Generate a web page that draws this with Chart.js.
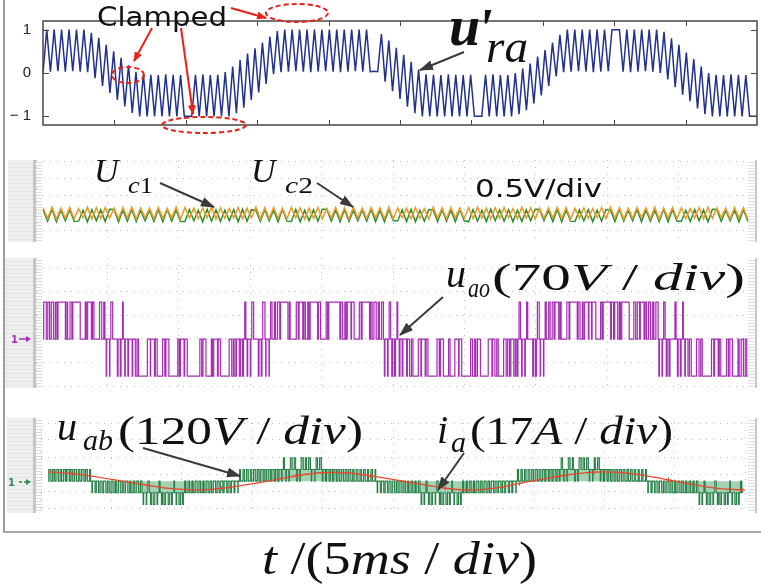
<!DOCTYPE html>
<html>
<head>
  <title>Clamped reference and converter waveforms</title>
  <script src="https://cdn.jsdelivr.net/npm/chart.js"></script>
  <style>
    body { margin: 0; background: #fff; }
    #page { position: relative; width: 761px; height: 586px; overflow: hidden; background: #fff; }
    #page canvas, #page svg, .deco { position: absolute; }
    .band { background: repeating-linear-gradient(to bottom, #efefef 0 3px, #e3e3e3 3px 4px); }
    .rail { width: 3px; background: #c6c6c6; }
    .comb { width: 6px; background: repeating-linear-gradient(to bottom, #fff 0 2px, #dadada 2px 3px); }
    .combR { width: 7px; background: repeating-linear-gradient(to bottom, #fff 0 2px, #e0e0e0 2px 3px); border-right: 2px solid #c8c8c8; }
  </style>
</head>
<body>
<div id="page">
  <!-- outer frame -->
  <div class="deco" style="left:3px;top:0;width:2px;height:533px;background:#9c9c9c"></div>
  <div class="deco" style="left:3px;top:531px;width:758px;height:2px;background:#a8a8a8"></div>

  <!-- scope panel edges -->
  <div class="deco band" style="left:8px;top:160px;width:25px;height:82px"></div>
  <div class="deco rail" style="left:33px;top:160px;height:82px"></div>
  <div class="deco comb" style="left:36px;top:160px;height:82px"></div>
  <div class="deco combR" style="left:748px;top:160px;height:82px"></div>

  <div class="deco band" style="left:5px;top:258px;width:28px;height:130px"></div>
  <div class="deco rail" style="left:33px;top:258px;height:130px"></div>
  <div class="deco comb" style="left:36px;top:258px;height:130px"></div>
  <div class="deco combR" style="left:748px;top:258px;height:130px"></div>

  <div class="deco band" style="left:7px;top:418px;width:26px;height:95px"></div>
  <div class="deco rail" style="left:33px;top:418px;height:95px"></div>
  <div class="deco comb" style="left:36px;top:418px;height:95px"></div>
  <div class="deco combR" style="left:748px;top:418px;height:95px"></div>

  <canvas id="uraChart" width="761" height="146" style="left:0;top:0"></canvas>
  <canvas id="ucChart" width="714" height="82" style="left:36px;top:160px"></canvas>
  <canvas id="uaoChart" width="714" height="130" style="left:36px;top:258px"></canvas>
  <canvas id="uabChart" width="714" height="95" style="left:36px;top:418px"></canvas>

  <svg id="notes" width="761" height="586" style="left:0;top:0">
    <defs>
      <marker id="headRed" viewBox="0 0 10 8" refX="9" refY="4" markerWidth="10" markerHeight="8" markerUnits="userSpaceOnUse" orient="auto">
        <path d="M0,0 L10,4 L0,8 Z" fill="#e8221a"/>
      </marker>
      <marker id="headGrey" viewBox="0 0 14 10" refX="13" refY="5" markerWidth="14" markerHeight="10" markerUnits="userSpaceOnUse" orient="auto">
        <path d="M0,0 L14,5 L0,10 Z" fill="#3a3a3a"/>
      </marker>
    </defs>

    <!-- clamped notes -->
    <g fill="none" stroke="#e8221a" stroke-width="2" stroke-dasharray="5 3">
      <ellipse cx="128" cy="75" rx="16" ry="8"/>
      <ellipse cx="204" cy="125" rx="42" ry="8"/>
      <ellipse cx="297" cy="13" rx="31" ry="9"/>
    </g>
    <g stroke="#e8221a" stroke-width="2">
      <line x1="152" y1="28" x2="134" y2="61" marker-end="url(#headRed)"/>
      <line x1="181" y1="28" x2="193" y2="114" marker-end="url(#headRed)"/>
      <line x1="231" y1="8" x2="266" y2="18" marker-end="url(#headRed)"/>
    </g>
    <text x="97" y="26" font-family="DejaVu Sans" font-size="26" fill="#111" textLength="130" lengthAdjust="spacingAndGlyphs">Clamped</text>

    <g stroke="#3a3a3a" stroke-width="2">
      <line x1="464" y1="52" x2="420" y2="70" marker-end="url(#headGrey)"/>
      <line x1="160" y1="183" x2="214" y2="207" marker-end="url(#headGrey)"/>
      <line x1="317" y1="183" x2="353" y2="207" marker-end="url(#headGrey)"/>
      <line x1="443" y1="297" x2="400" y2="335" marker-end="url(#headGrey)"/>
      <line x1="143" y1="448" x2="240" y2="476" marker-end="url(#headGrey)"/>
      <line x1="464" y1="453" x2="438" y2="490" marker-end="url(#headGrey)"/>
    </g>

    <g font-family="Liberation Serif" fill="#111">
      <text x="449" y="45" font-size="56" font-weight="bold" font-style="italic">u</text>
      <text x="477" y="48" font-size="56" font-weight="bold" font-style="italic">'</text>
      <text x="486" y="62" font-size="46" font-style="italic" textLength="42" lengthAdjust="spacingAndGlyphs">ra</text>

      <text x="94" y="182" font-size="34" font-style="italic">U</text>
      <text x="128" y="193" font-size="23" textLength="25" lengthAdjust="spacingAndGlyphs"><tspan font-style="italic">c</tspan>1</text>
      <text x="251" y="182" font-size="34" font-style="italic">U</text>
      <text x="285" y="193" font-size="23" textLength="28" lengthAdjust="spacingAndGlyphs"><tspan font-style="italic">c</tspan>2</text>

      <text x="446" y="287" font-size="40" font-style="italic">u</text>
      <text x="468" y="297" font-size="28" font-style="italic" textLength="22" lengthAdjust="spacingAndGlyphs">ao</text>
      <text x="492" y="290" font-size="38" textLength="253" lengthAdjust="spacingAndGlyphs">(70<tspan font-style="italic">V</tspan> / <tspan font-style="italic">div</tspan>)</text>

      <text x="57" y="440" font-size="40" font-style="italic">u</text>
      <text x="83" y="450" font-size="30" font-style="italic" textLength="30" lengthAdjust="spacingAndGlyphs">ab</text>
      <text x="118" y="444" font-size="40" textLength="245" lengthAdjust="spacingAndGlyphs">(120<tspan font-style="italic">V</tspan> / <tspan font-style="italic">div</tspan>)</text>

      <text x="437" y="443" font-size="40" font-style="italic">i</text>
      <text x="451" y="452" font-size="30" font-style="italic">a</text>
      <text x="470" y="444" font-size="40" textLength="203" lengthAdjust="spacingAndGlyphs">(17<tspan font-style="italic">A</tspan> / <tspan font-style="italic">div</tspan>)</text>

      <text x="262" y="574" font-size="46" textLength="275" lengthAdjust="spacingAndGlyphs"><tspan font-style="italic">t</tspan> /(5<tspan font-style="italic">ms</tspan> / <tspan font-style="italic">div</tspan>)</text>
    </g>
    <text x="475" y="197" font-family="DejaVu Sans" font-size="24" fill="#111" textLength="127" lengthAdjust="spacingAndGlyphs">0.5V/div</text>

    <!-- channel markers -->
    <text x="11" y="343" font-family="DejaVu Sans" font-size="10" font-weight="bold" fill="#a52db5">1</text>
    <line x1="19" y1="339" x2="27" y2="339" stroke="#a52db5" stroke-width="1.5"/>
    <path d="M26,336 L31,339 L26,342 Z" fill="#a52db5"/>
    <text x="8" y="486" font-family="DejaVu Sans" font-size="10" font-weight="bold" fill="#2e8a52">1</text>
    <line x1="19" y1="482" x2="27" y2="482" stroke="#2e8a52" stroke-width="1.5" stroke-dasharray="3 2"/>
    <path d="M26,479 L31,482 L26,485 Z" fill="#2e8a52"/>
  </svg>
</div>

<script>
  // ---- top panel: u'ra, one trough and one peak per carrier cycle ----
  const yTicksTop = [-1, 0, 1];

  const uraTrough = [
    0.00, 0.03, 0.04, 0.03, 0.04, 0.03,
    0.02, -0.12, -0.30, -0.46, -0.62, -0.77, -0.92, -1.00,
    -1, -1, -1, -1, -1, -1, -1, -1, -1, -1, -1, -1,
    -0.93, -0.80, -0.62, -0.45, -0.25, -0.03,
    0.02, 0.03, 0.04, 0.03, 0.02, 0.03, 0.04, 0.03, 0.02, 0.03, 0.04, 0.03, 0.03, 0.03,
    -0.20, -0.42, -0.60, -0.78, -0.93,
    -1, -1, -1, -1, -1, -1, -1, -1, -1, -1, -1, -1, -1,
    -0.95, -0.86, -0.70, -0.52, -0.30, -0.08,
    0.02, 0.03, 0.04, 0.03, 0.02, 0.03, 0.04,
    1.00,
    0.03, 0.02, 0.03, 0.04, 0.03, 0.00,
    -0.15, -0.33, -0.50, -0.65, -0.82, -0.95,
    -1, -1, -1, -1, -1, -1, -1
  ];

  const uraPeak = [
    1, 1, 1, 1, 1, 1,
    0.93, 0.81, 0.65, 0.50, 0.35, 0.18, 0.03, -0.03,
    -0.04, -0.05, -0.03, -0.04, -0.05, -1.00, -0.04, -0.03, -0.05, -0.04,
    0.02, 0.15, 0.30, 0.45, 0.57, 0.70, 0.84, 0.97,
    1, 1, 1, 1, 1, 1, 1, 1, 1, 1, 1, 1,
    0.04,
    0.90, 0.75, 0.58, 0.42, 0.26, 0.08, -0.03,
    -0.04, -0.05, -0.03, -0.04, -0.05, -0.04, -1.00, -0.04, -0.03, -0.05,
    -0.05, 0.00, 0.10, 0.22, 0.38, 0.53, 0.70, 0.88,
    1, 1, 1, 1, 1, 1, 1, 1, 1, 1, 1, 1, 1,
    0.95, 0.80, 0.65, 0.47, 0.32, 0.15, 0.00,
    -0.04, -0.05, -0.03, -0.04, -0.05, -1.00
  ];

  // ---- capacitor voltages (div), sampled along the sweep ----
  const ucOrange = [
    -0.70,-1.32,-0.66,-1.36,-0.72,-1.30,-0.68,-1.34,-0.74,-1.28,-0.66,-1.36,-0.70,-1.32,-0.68,-1.30,
    -0.72,-1.34,-0.68,-1.30,-0.66,-1.36,-0.70,-1.28,-0.72,-1.34,-0.68,-1.32,-0.74,-1.30,-0.66,-1.36,
    -0.68,-1.30,-0.72,-1.34,-0.70,-1.28,-0.66,-1.36,-0.70,-1.32,-0.74,-1.30,-0.68,-1.34,-0.72,-1.28,
    -0.66,-1.36,-0.70,-1.32,-0.68,-1.30,-0.72,-1.34,-0.66,-1.28,-0.70,-1.36,-0.72,-1.32,-0.68,-1.34,
    -0.74,-1.30,-0.68,-1.34,-0.70,-1.36,-0.66,-1.30,-0.72,-1.32,-0.68,-1.28,-0.70,-1.34,-0.66,-1.36,
    -0.70,-1.28,-0.72,-1.34,-0.68,-1.32,-0.74,-1.36,-0.66,-1.30,-0.70,-1.34,-0.68,-1.28,-0.72,-1.32,
    -0.68,-1.34,-0.66,-1.30,-0.72,-1.36,-0.70,-1.32,-0.68,-1.28,-0.74,-1.34,-0.66,-1.30,-0.70,-1.36,
    -0.72,-1.32,-0.70,-1.28,-0.66,-1.34,-0.68,-1.36,-0.72,-1.30,-0.70,-1.32,-0.74,-1.28,-0.68,-1.34,
    -0.66,-1.30,-0.70,-1.36,-0.72,-1.32,-0.68,-1.28,-0.70,-1.34,-0.66,-1.36,-0.72,-1.30,-0.68,-1.32,
    -0.70,-1.34,-0.74,-1.30,-0.68,-1.36,-0.66,-1.32,-0.70,-1.28,-0.72,-1.34,-0.68,-1.30,-0.70,-1.36
  ];

  const ucGreen = [
    -0.82,-1.48,-0.78,-1.52,-0.84,-1.46,-0.80,-1.50,-1.48,-0.84,-1.52,-0.80,-1.46,-0.82,-1.50,-0.78,
    -0.80,-1.52,-0.84,-1.48,-0.78,-1.50,-0.82,-1.46,-0.84,-1.50,-0.80,-1.52,-0.78,-1.48,-0.82,-1.50,
    -1.50,-0.80,-1.46,-0.84,-1.52,-0.78,-1.48,-0.82,-1.50,-0.84,-1.46,-0.80,-1.52,-0.78,-1.48,-0.82,
    -0.84,-1.50,-0.80,-1.46,-0.82,-1.52,-0.78,-1.48,-1.50,-0.80,-1.52,-0.84,-1.46,-0.82,-1.48,-0.78,
    -0.78,-1.48,-0.82,-1.52,-0.80,-1.50,-0.84,-1.46,-0.82,-1.48,-0.78,-1.50,-0.84,-1.52,-0.80,-1.46,
    -1.46,-0.82,-1.50,-0.78,-1.52,-0.84,-1.48,-0.80,-0.82,-1.50,-0.80,-1.48,-0.84,-1.52,-0.78,-1.46,
    -1.52,-0.80,-1.48,-0.84,-1.50,-0.78,-1.46,-0.82,-1.48,-0.80,-1.52,-0.84,-1.50,-0.82,-1.46,-0.78,
    -0.80,-1.46,-0.84,-1.50,-0.78,-1.52,-0.82,-1.48,-1.50,-0.82,-1.46,-0.80,-1.52,-0.84,-1.48,-0.80,
    -0.82,-1.50,-0.78,-1.48,-0.84,-1.46,-0.80,-1.52,-0.82,-1.48,-0.84,-1.50,-0.78,-1.52,-0.80,-1.48,
    -1.48,-0.84,-1.50,-0.80,-1.46,-0.82,-1.52,-0.78,-0.80,-1.50,-0.84,-1.46,-0.82,-1.52,-0.78,-1.50
  ];

  // ---- uao: mean level over each switching cycle (+1 / 0 / -1) ----
  const uaoCycleMean = [
    0.7, 0.5, 0.6, 0.4, 1, 1, 0.2, 0.5, 1, 1, 0, 0.3, 1, 0.4, 0, 0.6,
    0.3, -0.2, 0.5, 0, -0.4, 0.2, -0.3, 0,
    -0.3, -0.6, -1, -1, -0.2, 0, -0.5, -1, -0.4, -0.2, -1, -1, -0.6, 0, -0.3,
    -1, -1, -1, -0.5, -0.2, -1, -0.7, 0, -0.4, -1, -1, -0.3, -0.6, -0.2, -0.5,
    0.3, -0.3, 0.5, 0, -0.4, 0.6, -0.2, 0.4,
    0.3, 0.6, 1, 1, 0.2, 0, 0.5, 1, 0.4, 0.3, 1, 1, 0.6, 0, 0.4,
    1, 1, 1, 0.5, 0.3, 1, 0.7, 0, 0.5, 1, 1, 0.4, 0.6, 0.3, 0.5,
    -0.3, 0.4, -0.5, 0.2, -0.4, 0,
    -0.4, -0.6, -1, -0.3, 0, -0.5, -1, -1, -0.4, -0.2, -1, -0.6, -1, 0, -0.3,
    -1, -1, -0.5, -0.7, -0.2, -1, -1, 0, -0.4, -0.6, -1, -0.3, -0.5, -0.2, -0.6,
    0.4, -0.3, 0.3, 0, -0.5, 0.5, -0.2, 0.3,
    0.4, 0.5, 1, 0.3, 0, 0.6, 1, 1, 0.5, 0.2, 1, 0.7, 1, 0, 0.4,
    1, 1, 0.6, 0.8, 0.3, 1, 1, 0, 0.5, 0.6, 1, 0.4, 0.5, 0.3, 0.6,
    -0.3, 0.4, -0.5, 0, 0.3, -0.4, 0.2, -0.3,
    -0.5, -1, -0.3, -0.6, -1, -1, -0.4, 0, -0.6, -1, -0.5, -0.3, -1, -0.7, -0.4, -0.6
  ];

  // ---- uab: mean level over each switching cycle (five levels -2..+2) ----
  const uabCycleMean = [
    0.6, 0.5, 0.7, 0.4, 0.6, 0.8, 0.5, 0.6, 0.4, 0.7, 0.5, 0.3,
    -0.3, -0.4, -0.5, -0.4, -0.6, -0.5, -0.7, -0.5, -0.6, -0.4, -0.7, -0.6, -0.5, -0.6,
    -1.3, -0.6, -1.5, -1.4, -0.7, -1.6, -1.3, -1.5, -0.8, -1.4, -1.5, -0.7,
    -0.6, -0.7, -0.5, -0.6, -0.7, -0.5, -0.6, -0.4, -0.5, -0.4, -0.3, -0.5, -0.3, -0.2,
    0.3, 0.4, 0.5, 0.4, 0.6, 0.5, 0.7, 0.5, 0.6, 0.7, 0.6, 0.7,
    1.3, 0.7, 1.5, 1.4, 0.6, 1.6, 1.3, 1.5, 0.8, 1.4, 1.5, 0.7,
    0.7, 0.6, 0.7, 0.5, 0.6, 0.5, 0.6, 0.4, 0.5, 0.4, 0.5, 0.3, 0.4, 0.2,
    -0.3, -0.4, -0.4, -0.5, -0.5, -0.6, -0.5, -0.6, -0.7, -0.6, -0.7, -0.6,
    -1.4, -0.7, -1.5, -1.3, -0.6, -1.6, -1.4, -1.5, -0.8, -1.3, -1.5, -0.7,
    -0.7, -0.6, -0.7, -0.5, -0.6, -0.5, -0.6, -0.4, -0.5, -0.4, -0.5, -0.3, -0.4, -0.2,
    0.3, 0.4, 0.4, 0.5, 0.5, 0.6, 0.5, 0.6, 0.7, 0.6, 0.7, 0.6,
    1.4, 0.7, 1.5, 1.3, 0.6, 1.6, 1.4, 1.5, 0.8, 1.3, 1.5, 0.7,
    0.7, 0.6, 0.6, 0.5, 0.6, 0.5, 0.4, 0.5, 0.4, 0.3, 0.4, 0.3,
    -0.3, -0.4, -0.5, -0.4, -0.6, -0.5, -0.6, -0.7, -0.5, -0.6, -0.7, -0.6, -0.7, -0.6,
    -1.4, -0.7, -1.5, -1.4, -0.6, -1.6, -1.3, -1.5, -0.8, -1.4, -1.5, -0.7
  ];

  // ---- ia (same level units as uab) ----
  const iaSamples = [
    0.80, 0.65, 0.35, 0.00, -0.35, -0.65, -0.77, -0.62, -0.30, 0.05,
    0.45, 0.72, 0.72, 0.45, 0.10, -0.25, -0.60, -0.77, -0.60, -0.20,
    0.20, 0.55, 0.78, 0.75, 0.50, 0.10, -0.30, -0.62, -0.76
  ];

  // sweep: 10 divisions = 100 units, traces run from 1 to 99.7
  const sweepStart = 1;
  const sweepEnd = 99.7;

  Chart.defaults.font.family = 'Liberation Sans';

  // ---------- top panel ----------
  const uraSeries = [];
  uraTrough.forEach((lo, k) => {
    uraSeries.push(lo);
    if (k < uraPeak.length) uraSeries.push(uraPeak[k]);
  });

  const panelFrame = {
    id: 'panelFrame',
    afterDraw(chart) {
      const { ctx, chartArea: a } = chart;
      const y = chart.scales.y;
      ctx.save();
      ctx.strokeStyle = '#474747';
      ctx.lineWidth = 1.5;
      ctx.strokeRect(a.left, a.top, a.right - a.left, a.bottom - a.top);
      ctx.lineWidth = 1;
      ctx.beginPath();
      for (let i = 1; i < 10; i++) {
        const px = Math.round(a.left + (a.right - a.left) * i / 10) + 0.5;
        ctx.moveTo(px, a.bottom); ctx.lineTo(px, a.bottom - 5);
        ctx.moveTo(px, a.top); ctx.lineTo(px, a.top + 5);
      }
      yTicksTop.forEach(v => {
        const py = Math.round(y.getPixelForValue(v)) + 0.5;
        ctx.moveTo(a.left, py); ctx.lineTo(a.left + 6, py);
        ctx.moveTo(a.right, py); ctx.lineTo(a.right - 6, py);
      });
      ctx.stroke();
      ctx.restore();
    }
  };

  new Chart(document.getElementById('uraChart'), {
    type: 'line',
    data: {
      labels: uraSeries.map((_, i) => i),
      datasets: [{
        data: uraSeries,
        borderColor: '#22318e',
        borderWidth: 1.5,
        pointRadius: 0,
        tension: 0
      }]
    },
    options: {
      responsive: false,
      animation: false,
      layout: { padding: { top: 2, right: 4, bottom: 3, left: 0 } },
      plugins: { legend: { display: false }, tooltip: { enabled: false } },
      scales: {
        x: { display: false },
        y: {
          min: -1.2,
          max: 1.2,
          afterFit: s => { s.width = 43; },
          afterBuildTicks: s => { s.ticks = yTicksTop.map(v => ({ value: v })); },
          ticks: {
            padding: 12,
            color: '#222',
            font: { size: 15 },
            callback: v => (v < 0 ? '\u2212 1' : String(v))
          },
          grid: { display: false, drawTicks: false },
          border: { display: false }
        }
      }
    },
    plugins: [panelFrame]
  });

  // ---------- scope panels ----------
  function scopeOptions(levelMin, levelMax, divMin, divMax) {
    const noSize = s => { if (s.isHorizontal()) s.height = 0; else s.width = 0; };
    const dotted = { display: false, dash: [1, 6] };
    return {
      responsive: false,
      animation: false,
      layout: { padding: 0 },
      plugins: { legend: { display: false }, tooltip: { enabled: false } },
      scales: {
        x: {
          type: 'linear', min: 0, max: 100,
          ticks: { display: false, stepSize: 10 },
          grid: { color: '#bdbdbd', drawTicks: false },
          border: dotted,
          afterFit: noSize
        },
        y: { min: levelMin, max: levelMax, display: false },
        yg: {
          position: 'left', min: divMin, max: divMax,
          ticks: { display: false, stepSize: 1, includeBounds: false },
          grid: { color: '#bdbdbd', drawTicks: false },
          border: dotted,
          afterFit: noSize
        }
      }
    };
  }

  function sampled(values) {
    const step = (sweepEnd - sweepStart) / (values.length - 1);
    return values.map((v, i) => ({ x: sweepStart + i * step, y: v }));
  }

  // one pulse per switching cycle, centred, between the two levels around the mean
  function pwmSteps(means) {
    const cycle = (sweepEnd - sweepStart) / means.length;
    const pts = [];
    let base = 0;
    means.forEach((v, k) => {
      base = Math.floor(v);
      const on = v - base;
      const t0 = sweepStart + k * cycle;
      pts.push({ x: t0, y: base });
      if (on > 0) {
        pts.push({ x: t0 + cycle * (1 - on) / 2, y: base + 1 });
        pts.push({ x: t0 + cycle * (1 + on) / 2, y: base });
      }
    });
    pts.push({ x: sweepEnd, y: base });
    return pts;
  }

  new Chart(document.getElementById('ucChart'), {
    type: 'line',
    data: {
      datasets: [
        { data: sampled(ucOrange), borderColor: '#ec9a2c', borderWidth: 1.5, pointRadius: 0, tension: 0 },
        { data: sampled(ucGreen), borderColor: '#2f8f2f', borderWidth: 1.5, pointRadius: 0, tension: 0 }
      ]
    },
    options: scopeOptions(-2.7, 2.1, -2.7, 2.1)
  });

  new Chart(document.getElementById('uaoChart'), {
    type: 'line',
    data: {
      datasets: [
        { data: pwmSteps(uaoCycleMean), borderColor: '#a52db5', borderWidth: 1.2, pointRadius: 0, stepped: true }
      ]
    },
    options: scopeOptions(-1.32, 2.19, -2.08, 3.43)
  });

  new Chart(document.getElementById('uabChart'), {
    type: 'line',
    data: {
      datasets: [
        { data: sampled(iaSamples), borderColor: '#e2492d', borderWidth: 1.3, tension: 0.4,
          pointStyle: 'cross', pointRadius: ctx => (ctx.dataIndex % 3 === 1 ? 2.5 : 0),
          pointBorderColor: '#e2492d', pointBorderWidth: 1, order: 0 },
        { data: pwmSteps(uabCycleMean), borderColor: '#2a8049', borderWidth: 1.1, pointRadius: 0,
          stepped: true, fill: 'origin', backgroundColor: 'rgba(90,170,120,0.55)', order: 1 }
      ]
    },
    options: scopeOptions(-2.31, 5.0, -1.58, 3.42)
  });
</script>
</body>
</html>
